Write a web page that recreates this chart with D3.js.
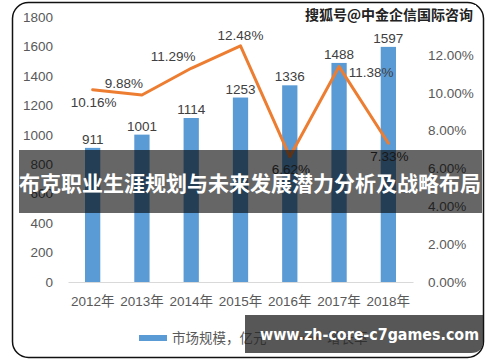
<!DOCTYPE html>
<html>
<head>
<meta charset="utf-8">
<script src="https://cdn.jsdelivr.net/npm/d3@7"></script>
<style>
  html, body { margin: 0; padding: 0; background: #fff; }
  svg { display: block; }
</style>
</head>
<body>
<div id="chart"></div>
<script>
// data
var years      = ["2012年", "2013年", "2014年", "2015年", "2016年", "2017年", "2018年"];
var marketSize = [911, 1001, 1114, 1253, 1336, 1488, 1597];
var growthRate = [10.16, 9.88, 11.29, 12.48, 6.62, 11.38, 7.33];
var growthLabelPos = ["below", "upleft", "upleft", "above", "below", "right", "below"];
var leftTicks  = [0, 200, 400, 600, 800, 1000, 1200, 1400, 1600, 1800];
var rightTicks = [0, 2, 4, 6, 8, 10, 12];
var legendNames = ["市场规模，亿元", "增长率"];

var width = 500, height = 362;
var plot_left = 68, plot_right = 413, plot_top = 17, plot_bottom = 282;

var color_bar   = "#5B9BD5";
var color_line  = "#ED7D31";
var color_tick  = "#595959";
var color_label = "#404040";
var numFont = "'Liberation Sans', Arial, sans-serif";
var cjkFont = "'Liberation Sans', 'Noto Sans CJK SC', sans-serif";

var svg = d3.select("#chart").append("svg")
    .attr("width", width)
    .attr("height", height);

// outer rounded frame
svg.append("rect")
    .attr("x", 12.5).attr("y", 2.5)
    .attr("width", 471).attr("height", 355)
    .attr("rx", 16).attr("ry", 16)
    .attr("fill", "#fff")
    .attr("stroke", "#111")
    .attr("stroke-width", 1.5);

var xScale = d3.scaleBand()
    .domain(years)
    .range([plot_left, plot_right])
    .paddingInner(0.69)
    .paddingOuter(0.345);

var yScale = d3.scaleLinear()
    .domain([0, 1800])
    .range([plot_bottom, plot_top]);

var yScaleRight = d3.scaleLinear()
    .domain([0, 14])
    .range([plot_bottom, plot_top]);

// left axis
var yAxis = d3.axisLeft(yScale).tickValues(leftTicks).tickSize(0).tickPadding(15)
    .tickFormat(function(d) { return String(d); });
var gy = svg.append("g")
    .attr("transform", "translate(" + plot_left + ",0)")
    .call(yAxis);
gy.select(".domain").remove();
gy.selectAll("text")
    .attr("fill", color_tick)
    .style("font-family", numFont)
    .style("font-size", "13.5px");

// right axis
var yAxisRight = d3.axisRight(yScaleRight).tickValues(rightTicks).tickSize(0).tickPadding(15)
    .tickFormat(function(d) { return d.toFixed(2) + "%"; });
var gr = svg.append("g")
    .attr("transform", "translate(" + plot_right + ",0)")
    .call(yAxisRight);
gr.select(".domain").remove();
gr.selectAll("text")
    .attr("fill", color_tick)
    .style("font-family", numFont)
    .style("font-size", "13.5px");

// baseline + x axis
var xAxis = d3.axisBottom(xScale).tickSize(0).tickPadding(14);
var gx = svg.append("g")
    .attr("transform", "translate(0," + plot_bottom + ")")
    .call(xAxis);
gx.select(".domain")
    .attr("stroke", "#D9D9D9")
    .attr("stroke-width", 1.2);
gx.selectAll("text")
    .attr("fill", color_tick)
    .style("font-family", cjkFont)
    .style("font-size", "13.5px");

// bars
svg.append("g")
    .selectAll("rect")
    .data(marketSize)
    .enter()
    .append("rect")
    .attr("x", function(d, i) { return xScale(years[i]); })
    .attr("y", function(d) { return yScale(d); })
    .attr("width", xScale.bandwidth())
    .attr("height", function(d) { return plot_bottom - yScale(d); })
    .attr("fill", color_bar);

// bar labels
svg.append("g")
    .selectAll("text")
    .data(marketSize)
    .enter()
    .append("text")
    .attr("x", function(d, i) { return xScale(years[i]) + xScale.bandwidth() / 2; })
    .attr("y", function(d) { return yScale(d) - 4; })
    .attr("text-anchor", "middle")
    .attr("fill", color_label)
    .style("font-family", numFont)
    .style("font-size", "13.5px")
    .text(function(d) { return d; });

// growth line
var xMid = function(i) { return xScale(years[i]) + xScale.bandwidth() / 2; };
var line = d3.line()
    .x(function(d, i) { return xMid(i); })
    .y(function(d) { return yScaleRight(d); });

svg.append("path")
    .datum(growthRate)
    .attr("d", line)
    .attr("fill", "none")
    .attr("stroke", color_line)
    .attr("stroke-width", 3)
    .attr("stroke-linejoin", "round")
    .attr("stroke-linecap", "round");

// growth labels
var offsets = {
    below:  [1, 13],
    above:  [0, -10],
    upleft: [-18, -12],
    right:  [32, 6]
};
svg.append("g")
    .selectAll("text")
    .data(growthRate)
    .enter()
    .append("text")
    .attr("x", function(d, i) { return xMid(i) + offsets[growthLabelPos[i]][0]; })
    .attr("y", function(d, i) { return yScaleRight(d) + offsets[growthLabelPos[i]][1]; })
    .attr("dy", "0.35em")
    .attr("text-anchor", "middle")
    .attr("fill", color_label)
    .style("font-family", numFont)
    .style("font-size", "13.5px")
    .text(function(d) { return d.toFixed(2) + "%"; });

// legend
var lg = svg.append("g");
lg.append("rect")
    .attr("x", 139).attr("y", 335)
    .attr("width", 28).attr("height", 6)
    .attr("fill", color_bar);
lg.append("text")
    .attr("x", 172).attr("y", 338)
    .attr("dy", "0.35em")
    .attr("fill", color_tick)
    .style("font-family", cjkFont)
    .style("font-size", "13.5px")
    .text(legendNames[0]);
lg.append("line")
    .attr("x1", 294).attr("x2", 322)
    .attr("y1", 338).attr("y2", 338)
    .attr("stroke", color_line)
    .attr("stroke-width", 3);
lg.append("text")
    .attr("x", 327).attr("y", 338)
    .attr("dy", "0.35em")
    .attr("fill", color_tick)
    .style("font-family", cjkFont)
    .style("font-size", "13.5px")
    .text(legendNames[1]);

// watermark
svg.append("rect")
    .attr("x", 306).attr("y", 5)
    .attr("width", 170).attr("height", 19)
    .attr("fill", "#fff");
svg.append("text")
    .attr("x", 473).attr("y", 15)
    .attr("dy", "0.35em")
    .attr("text-anchor", "end")
    .attr("fill", "#222")
    .attr("stroke", "#fff")
    .attr("stroke-width", 2)
    .attr("paint-order", "stroke")
    .style("font-family", "'Noto Sans CJK SC', sans-serif")
    .style("font-weight", "bold")
    .style("font-size", "14px")
    .text("搜狐号@中金企信国际咨询");

// title overlay band
svg.append("rect")
    .attr("x", 19).attr("y", 150)
    .attr("width", 463).attr("height", 63)
    .attr("fill", "rgba(0,0,0,0.6)");
svg.append("text")
    .attr("x", 250).attr("y", 184)
    .attr("dy", "0.35em")
    .attr("text-anchor", "middle")
    .attr("fill", "#fff")
    .style("font-family", "'Noto Sans CJK SC', sans-serif")
    .style("font-weight", "bold")
    .style("font-size", "21px")
    .text("布克职业生涯规划与未来发展潜力分析及战略布局");

// url overlay band
svg.append("path")
    .attr("d", "M245,315 H483 V341 Q483,353 471,353 H245 Z")
    .attr("fill", "rgba(40,40,40,0.78)");
svg.append("text")
    .attr("x", 260).attr("y", 334)
    .attr("dy", "0.35em")
    .attr("textLength", 219)
    .attr("lengthAdjust", "spacingAndGlyphs")
    .attr("fill", "#fff")
    .style("font-family", "'DejaVu Sans', sans-serif")
    .style("font-weight", "bold")
    .style("font-size", "16px")
    .text("www.zh-core-c7games.com");
</script>
</body>
</html>
